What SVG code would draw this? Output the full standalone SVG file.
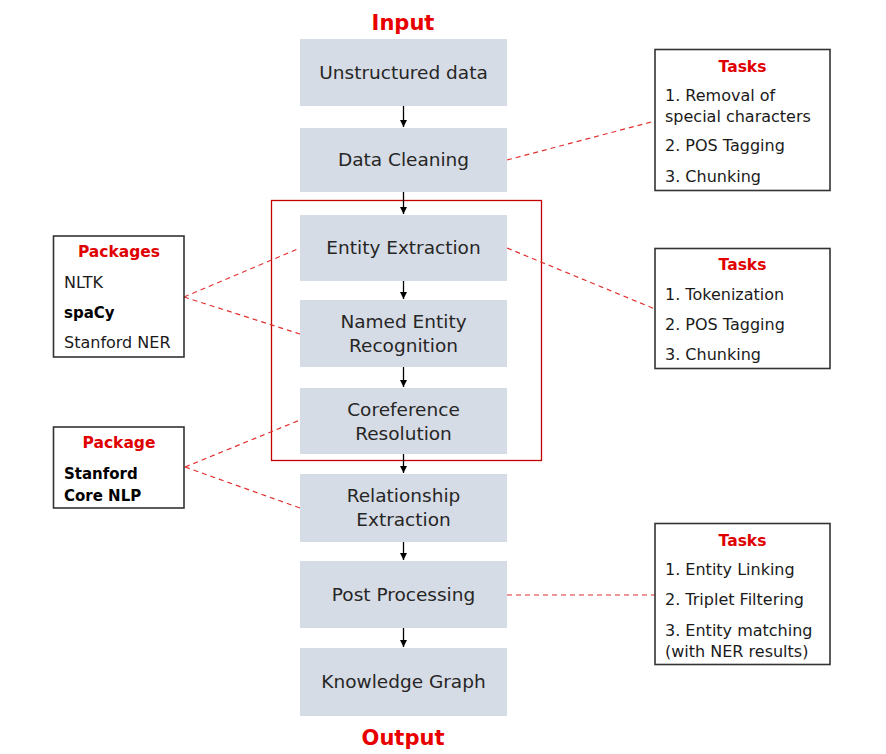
<svg xmlns="http://www.w3.org/2000/svg" width="886" height="754" viewBox="0 0 886 754">
<defs>
<marker id="ah" viewBox="0 0 10 10" refX="10" refY="5" markerWidth="7" markerHeight="7" markerUnits="userSpaceOnUse" orient="auto">
<path d="M0,0 L10,5 L0,10 z" fill="#000"/>
</marker>
<style>
.step{fill:#d6dce5;}
.st{font-family:"DejaVu Sans","Liberation Sans",sans-serif;font-size:18.5px;fill:#262626;text-anchor:middle;}
.io{font-family:"DejaVu Sans","Liberation Sans",sans-serif;font-size:21px;font-weight:bold;fill:#e80000;text-anchor:middle;}
.side{fill:#fff;stroke:#333;stroke-width:1.6;}
.sh{font-family:"DejaVu Sans","Liberation Sans",sans-serif;font-size:15.5px;font-weight:bold;fill:#e00000;text-anchor:middle;}
.sx{font-family:"DejaVu Sans","Liberation Sans",sans-serif;font-size:16px;fill:#1a1a1a;}
.sb{font-family:"DejaVu Sans","Liberation Sans",sans-serif;font-size:15px;font-weight:bold;fill:#000;}
.arr{stroke:#000;stroke-width:1.3;fill:none;marker-end:url(#ah);}
.dash{stroke:#e03030;stroke-width:1.2;stroke-dasharray:5,4;fill:none;}
</style>
</defs>
<rect width="886" height="754" fill="#fff"/>

<text class="io" x="403" y="30">Input</text>
<text class="io" x="403" y="745">Output</text>

<rect id="group-box" x="271.5" y="200.5" width="270" height="260" fill="none" stroke="#c00000" stroke-width="1.3"/>

<g id="connectors">
<line class="arr" x1="403.5" y1="106" x2="403.5" y2="127"/>
<line class="arr" x1="403.5" y1="192" x2="403.5" y2="214"/>
<line class="arr" x1="403.5" y1="281" x2="403.5" y2="299"/>
<line class="arr" x1="403.5" y1="367" x2="403.5" y2="387"/>
<line class="arr" x1="403.5" y1="454" x2="403.5" y2="473"/>
<line class="arr" x1="403.5" y1="542" x2="403.5" y2="560"/>
<line class="arr" x1="403.5" y1="628" x2="403.5" y2="647"/>
<line class="dash" x1="507" y1="160" x2="655" y2="121"/>
<line class="dash" x1="507" y1="248" x2="655" y2="309"/>
<line class="dash" x1="507" y1="595" x2="655" y2="595"/>
<line class="dash" x1="184" y1="297" x2="300" y2="248"/>
<line class="dash" x1="184" y1="297" x2="300" y2="334"/>
<line class="dash" x1="185" y1="467" x2="300" y2="420"/>
<line class="dash" x1="185" y1="467" x2="300" y2="508"/>
</g>

<g id="unstructured-data">
<rect class="step" x="300" y="39" width="207" height="67"/>
<text class="st" x="403.5" y="79">Unstructured data</text>
</g>
<g id="data-cleaning">
<rect class="step" x="300" y="128" width="207" height="64"/>
<text class="st" x="403.5" y="166">Data Cleaning</text>
</g>
<g id="entity-extraction">
<rect class="step" x="300" y="215" width="207" height="66"/>
<text class="st" x="403.5" y="254">Entity Extraction</text>
</g>
<g id="named-entity-recognition">
<rect class="step" x="300" y="300" width="207" height="67"/>
<text class="st" x="403.5" y="328">Named Entity</text>
<text class="st" x="403.5" y="352">Recognition</text>
</g>
<g id="coreference-resolution">
<rect class="step" x="300" y="388" width="207" height="66"/>
<text class="st" x="403.5" y="416">Coreference</text>
<text class="st" x="403.5" y="440">Resolution</text>
</g>
<g id="relationship-extraction">
<rect class="step" x="300" y="474" width="207" height="68"/>
<text class="st" x="403.5" y="502">Relationship</text>
<text class="st" x="403.5" y="526">Extraction</text>
</g>
<g id="post-processing">
<rect class="step" x="300" y="561" width="207" height="67"/>
<text class="st" x="403.5" y="601">Post Processing</text>
</g>
<g id="knowledge-graph">
<rect class="step" x="300" y="648" width="207" height="68"/>
<text class="st" x="403.5" y="688">Knowledge Graph</text>
</g>

<g id="tasks-cleaning">
<rect class="side" x="655" y="49.5" width="175" height="141"/>
<text class="sh" x="742.5" y="72">Tasks</text>
<text class="sx" x="665" y="101">1. Removal of</text>
<text class="sx" x="665" y="122">special characters</text>
<text class="sx" x="665" y="151">2. POS Tagging</text>
<text class="sx" x="665" y="182">3. Chunking</text>
</g>
<g id="tasks-extraction">
<rect class="side" x="655" y="248.5" width="175" height="120"/>
<text class="sh" x="742.5" y="270">Tasks</text>
<text class="sx" x="665" y="300">1. Tokenization</text>
<text class="sx" x="665" y="330">2. POS Tagging</text>
<text class="sx" x="665" y="360">3. Chunking</text>
</g>
<g id="tasks-post">
<rect class="side" x="655" y="523.5" width="175" height="141"/>
<text class="sh" x="742.5" y="546">Tasks</text>
<text class="sx" x="665" y="575">1. Entity Linking</text>
<text class="sx" x="665" y="605">2. Triplet Filtering</text>
<text class="sx" x="665" y="636">3. Entity matching</text>
<text class="sx" x="665" y="657">(with NER results)</text>
</g>
<g id="packages">
<rect class="side" x="53.5" y="236" width="130.5" height="121"/>
<text class="sh" x="119" y="257">Packages</text>
<text class="sx" x="64" y="288">NLTK</text>
<text class="sb" x="64" y="318">spaCy</text>
<text class="sx" x="64" y="348">Stanford NER</text>
</g>
<g id="package">
<rect class="side" x="53.5" y="427" width="130.5" height="81"/>
<text class="sh" x="119" y="448">Package</text>
<text class="sb" x="64" y="479">Stanford</text>
<text class="sb" x="64" y="501">Core NLP</text>
</g>
</svg>
